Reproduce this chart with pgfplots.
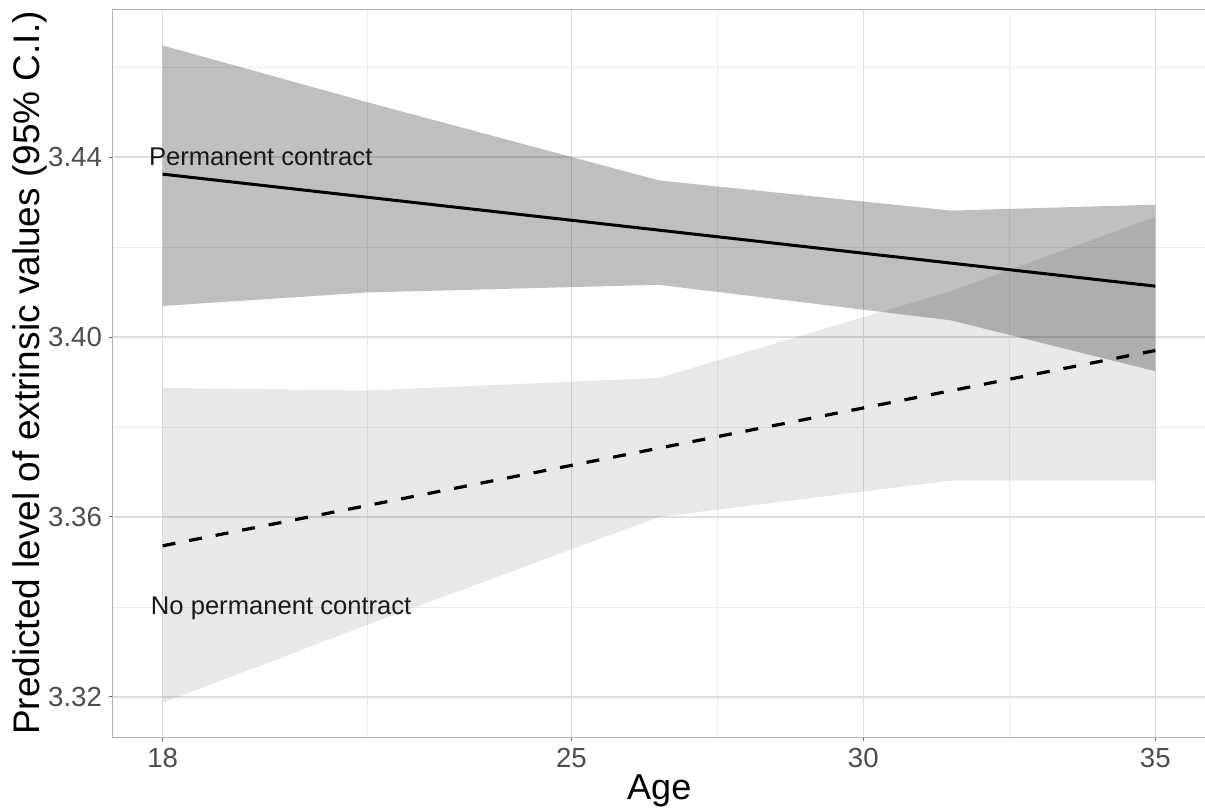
\documentclass[border=0pt]{standalone}
\usepackage{fontspec}
\setmainfont{Liberation Sans}
\usepackage{pgfplots}
\pgfplotsset{compat=1.18}
\definecolor{gridmaj}{HTML}{DEDEDE}
\definecolor{gridmin}{HTML}{EDEDED}
\definecolor{tickgrey}{HTML}{4D4D4D}
\definecolor{bordergrey}{HTML}{B3B3B3}
\begin{document}
\begin{tikzpicture}
\useasboundingbox (0,0) rectangle (602.5pt,405.5pt);
\clip (0,0) rectangle (602.5pt,405.5pt);
\begin{axis}[
  at={(56.5pt,37pt)}, anchor=south west,
  scale only axis, width=546.25pt, height=364pt,
  xmin=17.15, xmax=35.86, ymin=3.3111, ymax=3.4729,
  xtick={18,25,30,35}, xticklabels={18,25,30,35},
  minor xtick={21.5,27.5,32.5},
  ytick={3.32,3.36,3.40,3.44}, yticklabels={3.32,3.36,3.40,3.44},
  minor ytick={3.34,3.38,3.42,3.46},
  grid=both,
  major grid style={gridmaj, line width=0.75pt},
  minor grid style={gridmin, line width=0.4pt},
  axis line style={bordergrey, line width=0.5pt},
  tick style={black!60, line width=0.5pt},
  tick align=outside, tick pos=left,
  major tick length=2pt, minor tick length=0pt,
  xticklabel style={font=\fontsize{13.8}{16}\selectfont, text=tickgrey},
  yticklabel style={font=\fontsize{13.8}{16}\selectfont, text=tickgrey},
  /pgf/number format/assume math mode=true,
  xlabel={Age},
  xlabel style={font=\fontsize{18}{22}\selectfont, at={(axis description cs:0.5,-0.0745)}, anchor=center},
  ylabel={Predicted level of extrinsic values (95\% C.I.)},
  ylabel style={font=\fontsize{18.5}{22}\selectfont, at={(axis description cs:-0.076,0.5)}, anchor=center},
]
% Permanent contract CI
\addplot[draw=none, fill=black, fill opacity=0.25] coordinates {
  (18,3.4648) (21.5,3.4522) (26.5,3.4348) (31.5,3.4281) (35,3.4294)
  (35,3.3924) (31.5,3.4037) (26.5,3.4116) (21.5,3.4099) (18,3.4069)} -- cycle;
% No permanent contract CI
\addplot[draw=none, fill=black, fill opacity=0.09] coordinates {
  (18,3.3887) (21.5,3.3881) (26.5,3.3909) (31.5,3.4102) (35,3.4267)
  (35,3.3681) (31.5,3.3681) (26.5,3.3600) (21.5,3.3360) (18,3.3187)} -- cycle;
\addplot[black, line width=1.5pt] coordinates {(18,3.4362) (35,3.4113)};
\addplot[black, line width=1.6pt, dash pattern=on 6.5pt off 7pt] coordinates {(18,3.3536) (35,3.3970)};
\node[font=\fontsize{12.8}{15}\selectfont, text=black!90] at (axis cs:19.68,3.4400) {Permanent contract};
\node[font=\fontsize{12.8}{15}\selectfont, text=black!90] at (axis cs:20.03,3.3398) {No permanent contract};
\end{axis}
\end{tikzpicture}
\end{document}
